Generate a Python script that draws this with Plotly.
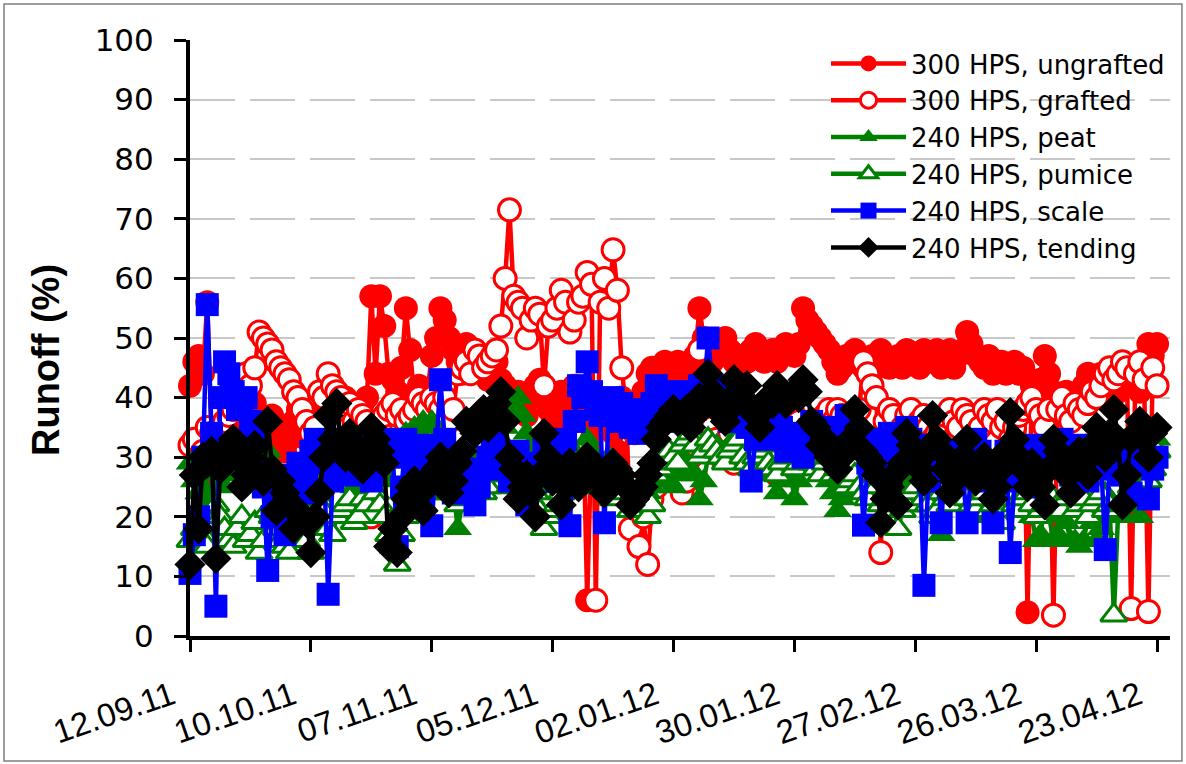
import plotly.graph_objects as go
import pandas as pd

# ---------------- data (daily, 12.09.11 .. 23.04.12) ----------------
dates = pd.date_range("2011-09-12", periods=225, freq="D")

tick_dates = pd.date_range("2011-09-12", periods=9, freq="28D")
tick_labels = ["12.09.11", "10.10.11", "07.11.11", "05.12.11", "02.01.12",
               "30.01.12", "27.02.12", "26.03.12", "23.04.12"]

ungrafted = [
    42, 46, 47, 44, 56, 33, 26, 31, 35, 38,
    37, 34, 38, 36, 34, 39, 37, 36, 33, 37,
    35, 34, 31, 33, 36, 38, 35, 33, 30, 34,
    37, 36, 38, 40, 39, 38, 40, 39, 37, 38,
    39, 40, 57, 44, 57, 52, 44, 43, 41, 45,
    55, 48, 40, 42, 39, 41, 47, 50, 55, 53,
    50, 48, 46, 44, 49, 48, 47, 46, 44, 43,
    45, 46, 43, 42, 38, 40, 41, 39, 37, 40,
    42, 43, 40, 38, 36, 39, 41, 40, 38, 42,
    40, 39, 6, 33, 35, 37, 38, 36, 34, 31,
    40, 38, 36, 34, 38, 41, 44, 45, 43, 44,
    46, 44, 45, 46, 44, 43, 46, 47, 55, 50,
    45, 46, 47, 48, 50, 48, 46, 45, 47, 46,
    48, 49, 48, 46, 47, 48, 46, 47, 49, 48,
    47, 49, 55, 53, 52, 51, 50, 49, 48, 46,
    44, 45, 47, 46, 48, 47, 45, 46, 47, 45,
    48, 47, 45, 46, 47, 45, 48, 47, 46, 45,
    48, 46, 47, 48, 45, 46, 48, 45, 47, 48,
    51, 49, 47, 46, 45, 47, 44, 45, 46, 44,
    45, 46, 44, 45, 4, 42, 40, 43, 47, 44,
    41, 39, 40, 41, 37, 39, 41, 42, 44, 43,
    42, 44, 40, 42, 43, 41, 44, 45, 43, 44,
    41, 43, 49, 47, 49]

grafted = [
    32, 33, 30, 31, 35, 34, 33, 35, 36, 37,
    38, 41, 40, 44, 42, 45, 51, 50, 49, 48,
    46, 45, 44, 43, 41, 40, 38, 36, 34, 35,
    41, 40, 44, 42, 41, 40, 38, 39, 36, 38,
    37, 36, 20, 34, 35, 37, 38, 39, 37, 38,
    36, 37, 38, 40, 39, 38, 40, 39, 38, 40,
    36, 38, 44, 45, 46, 44, 48, 47, 45, 46,
    47, 48, 52, 60, 71.5, 57, 56, 55, 50, 53,
    55, 54, 42, 52, 53, 55, 58, 56, 51, 53,
    56, 57, 61, 59, 6, 56, 60, 55, 64.8, 58,
    45, 38, 18, 22, 15, 20, 12, 23, 25, 27,
    28, 30, 26, 27, 24, 26, 30, 32, 48, 40,
    36, 35, 33, 30, 32, 34, 29, 31, 33, 34,
    35, 32, 33, 35, 36, 34, 27, 31, 34, 35,
    37, 36, 33, 35, 34, 33, 36, 37, 38, 36,
    38, 37, 35, 34, 36, 38, 46, 44, 42, 40,
    14, 36, 38, 37, 34, 35, 37, 38, 35, 36,
    37, 35, 33, 34, 36, 37, 38, 36, 35, 38,
    37, 36, 34, 35, 38, 37, 36, 38, 35, 36,
    33, 35, 37, 38, 39, 40, 38, 37, 35, 38,
    3.5, 38, 40, 37, 36, 39, 38, 37, 39, 41,
    40, 42, 44, 45, 43, 44, 46, 45, 4.6, 44,
    46, 43, 4.1, 45, 42]

peat = [
    29, 26, 24, 25, 22, 23, 27, 28, 25, 27,
    30, 29, 28, 31, 33, 30, 29, 28, 31, 29,
    26, 27, 24, 23, 22, 24, 26, 25, 23, 26,
    28, 27, 30, 29, 27, 28, 29, 27, 25, 26,
    24, 25, 27, 28, 26, 27, 30, 31, 32, 33,
    34, 33, 35, 34, 36, 35, 36, 33, 29, 30,
    27, 25, 18, 22, 26, 28, 30, 29, 28, 27,
    31, 32, 33, 35, 39, 38, 40, 37, 34, 32,
    29, 30, 27, 26, 25, 28, 27, 26, 30, 31,
    28, 30, 33, 31, 30, 29, 28, 30, 27, 26,
    25, 26, 23, 24, 21, 22, 24, 25, 26, 27,
    28, 26, 25, 27, 30, 29, 28, 27, 23, 26,
    30, 31, 32, 30, 31, 32, 33, 31, 29, 30,
    31, 32, 33, 30, 28, 27, 24, 26, 30, 28,
    23, 26, 29, 28, 30, 29, 27, 28, 26, 24,
    21, 23, 25, 24, 26, 27, 24, 25, 27, 28,
    30, 29, 28, 27, 25, 24, 26, 25, 24, 23,
    22, 24, 25, 23, 17, 22, 27, 26, 24, 25,
    27, 25, 26, 24, 20, 21, 23, 24, 26, 25,
    22, 23, 21, 22, 24, 20, 16, 17, 22, 20,
    16, 17, 21, 19, 16, 16, 15, 16, 20, 19,
    16, 18, 24, 23, 22, 21, 20, 22, 27, 25,
    20, 26, 30, 31, 33]

pumice = [
    16, 18, 19, 17, 15, 19, 22, 20, 18, 16,
    15, 18, 20, 16, 17, 19, 14, 16, 21, 20,
    18, 16, 15, 14, 17, 18, 19, 16, 14, 20,
    23, 21, 18, 17, 20, 21, 22, 23, 19, 20,
    23, 22, 25, 24, 22, 20, 17, 15, 12, 17,
    20, 22, 24, 23, 22, 24, 26, 25, 28, 26,
    24, 25, 22, 23, 26, 27, 28, 26, 24, 25,
    27, 28, 29, 27, 25, 26, 27, 25, 26, 23,
    24, 21, 18, 20, 21, 22, 24, 26, 27, 28,
    25, 26, 28, 29, 27, 26, 25, 24, 23, 25,
    26, 24, 21, 22, 24, 23, 20, 22, 27, 28,
    29, 31, 30, 29, 32, 33, 34, 32, 30, 31,
    33, 32, 31, 30, 29, 31, 32, 33, 30, 29,
    28, 30, 31, 32, 29, 28, 27, 29, 30, 31,
    28, 29, 30, 31, 29, 28, 27, 29, 30, 27,
    28, 27, 25, 26, 27, 25, 24, 23, 26, 25,
    22, 23, 24, 22, 18, 21, 22, 24, 25, 22,
    23, 22, 20, 21, 24, 23, 22, 24, 26, 25,
    23, 22, 21, 23, 24, 21, 22, 23, 19, 21,
    23, 22, 21, 23, 24, 22, 20, 21, 22, 24,
    23, 22, 21, 23, 24, 21, 22, 23, 20, 22,
    23, 24, 21, 22, 3.5, 21, 22, 23, 25, 24,
    23, 25, 26, 28, 31]

scale = [
    10.5, 17, 20, 30, 55.6, 34, 5, 40, 46, 44,
    41, 38, 39, 40, 36, 33, 28, 25, 11, 20,
    22, 24, 17, 20, 27, 29, 24, 26, 31, 33,
    29, 30, 7, 26, 29, 31, 33, 30, 27, 33,
    31, 29, 26, 28, 30, 33, 32, 30, 15, 25,
    33, 31, 29, 27, 31, 32, 18.5, 30, 43, 33,
    27, 24, 30, 28, 24, 26, 22, 25, 28, 30,
    33, 32, 30, 28, 26, 29, 31, 27, 22, 25,
    29, 27, 32, 30, 28, 26, 30, 33, 18.5, 36,
    42, 40, 46, 41, 38, 37, 19, 38, 40, 36,
    39, 37, 35, 38, 34, 35, 36, 39, 42, 40,
    38, 36, 41, 39, 40, 41, 36, 38, 42, 40,
    50, 42, 40, 39, 38, 36, 41, 39, 37, 35,
    26, 33, 35, 36, 33, 34, 37, 35, 31, 33,
    34, 32, 30, 33, 36, 35, 33, 32, 35, 34,
    31, 33, 37, 35, 34, 32, 18.6, 29, 33, 31,
    30, 32, 34, 31, 29, 30, 35, 33, 32, 30,
    8.5, 26, 28, 31, 19, 29, 31, 30, 28, 27,
    19, 28, 33, 31, 26, 29, 19, 27, 29, 31,
    14, 26, 28, 30, 32, 29, 25, 28, 31, 32,
    29, 31, 33, 30, 27, 32, 30, 28, 26, 29,
    32, 30, 14.5, 28, 31, 29, 27, 32, 24, 29,
    32, 31, 23, 28, 30]

tending = [
    12, 27, 18, 30, 29, 31, 13, 28, 31, 30,
    33, 30, 25, 27, 30, 32, 27, 26, 36, 28,
    21, 26, 24, 22, 18, 21, 20, 19, 14, 20,
    24, 30, 37, 33, 39, 32, 30, 34, 32, 30,
    28, 31, 35, 33, 31, 29, 15, 18, 14, 20,
    23, 25, 26, 24, 21, 25, 27, 28, 30, 27,
    24, 26, 29, 31, 36, 35, 34, 36, 38, 35,
    37, 39, 41, 36, 30, 28, 23, 25, 27, 24,
    20, 27, 34, 30, 26, 28, 22, 25, 29, 27,
    25, 28, 30, 29, 28, 26, 24, 27, 29, 28,
    27, 25, 22, 23, 24, 25, 27, 29, 33, 35,
    36, 37, 38, 36, 37, 38, 35, 37, 40, 39,
    44, 41, 38, 39, 36, 38, 43, 41, 40, 42,
    38, 37, 35, 38, 40, 39, 42, 41, 39, 40,
    41, 40, 43, 41, 36, 35, 32, 33, 30, 31,
    28, 30, 31, 33, 38, 35, 31, 30, 29, 27,
    19, 23, 25, 27, 22, 29, 34, 32, 30, 28,
    26, 31, 37, 33, 31, 28, 24, 26, 28, 30,
    33, 29, 26, 28, 30, 27, 23, 25, 28, 31,
    37.5, 33, 30, 28, 25, 29, 27, 25, 22, 28,
    33, 31, 29, 27, 24, 28, 31, 29, 27, 32,
    35, 33, 30, 34, 38, 33, 22, 27, 33, 34,
    36, 33, 30, 34, 35]

series_names = ["300 HPS, ungrafted", "300 HPS, grafted", "240 HPS, peat",
                "240 HPS, pumice", "240 HPS, scale", "240 HPS, tending"]
series_values = [ungrafted, grafted, peat, pumice, scale, tending]

# ---------------- styles ----------------
styles = [
    dict(color="#FF0000", symbol="circle", size=24, filled=True),
    dict(color="#FF0000", symbol="circle", size=22, filled=False),
    dict(color="#008000", symbol="triangle-up", size=25, filled=True),
    dict(color="#008000", symbol="triangle-up", size=23, filled=False),
    dict(color="#0000FF", symbol="square", size=23, filled=True),
    dict(color="#000000", symbol="diamond", size=24, filled=True),
]

fig = go.Figure()
for name, vals, st in zip(series_names, series_values, styles):
    if st["filled"]:
        marker = dict(symbol=st["symbol"], size=st["size"], color=st["color"],
                      line=dict(width=0))
    else:
        marker = dict(symbol=st["symbol"], size=st["size"], color="white",
                      line=dict(width=3, color=st["color"]))
    fig.add_trace(go.Scatter(
        x=dates, y=vals, name=name, mode="lines+markers",
        line=dict(color=st["color"], width=4.5),
        marker=marker, cliponaxis=False))

fig.update_layout(
    width=1186, height=764,
    margin=dict(l=190, r=16, t=40, b=128),
    paper_bgcolor="white", plot_bgcolor="white",
    showlegend=True,
    legend=dict(x=1.0, xanchor="right", y=1.0, yanchor="top",
                font=dict(family="DejaVu Sans", size=26, color="black"),
                bgcolor="rgba(255,255,255,0)", borderwidth=0,
                itemwidth=75, tracegroupgap=0),
    xaxis=dict(type="date", range=["2011-09-12", "2012-04-26"],
               tickvals=tick_dates, ticktext=tick_labels, tickangle=-19,
               tickfont=dict(family="Liberation Sans, Arial", size=33, color="black"),
               ticks="outside", ticklen=12, tickwidth=3, tickcolor="black",
               showline=True, linewidth=4, linecolor="black",
               showgrid=False, zeroline=False, ticklabelstandoff=12,
               ticklabelshift=-18, automargin=False),
    yaxis=dict(range=[0, 100], dtick=10, tick0=0,
               tickfont=dict(family="DejaVu Sans", size=31, color="black"),
               ticks="outside", ticklen=12, tickwidth=3, tickcolor="black",
               showline=True, linewidth=4, linecolor="black",
               showgrid=True, gridcolor="#c8c8c8", gridwidth=1.5,
               griddash="45px,15px", zeroline=False, ticklabelstandoff=14,
               automargin=False),
    annotations=[dict(text="<b>Runoff (%)</b>", textangle=-90,
                      x=-0.147, y=0.463, xref="paper", yref="paper",
                      xanchor="center", yanchor="middle",
                      showarrow=False,
                      font=dict(family="Liberation Sans, Arial", size=38, color="black"))],
    shapes=[dict(type="rect", xref="paper", yref="paper",
                 x0=-0.1898, x1=1.0122, y0=-0.2097, y1=1.0604,
                 line=dict(color="#7f7f7f", width=1.5), layer="below")],
)

fig.write_html("out.html")
